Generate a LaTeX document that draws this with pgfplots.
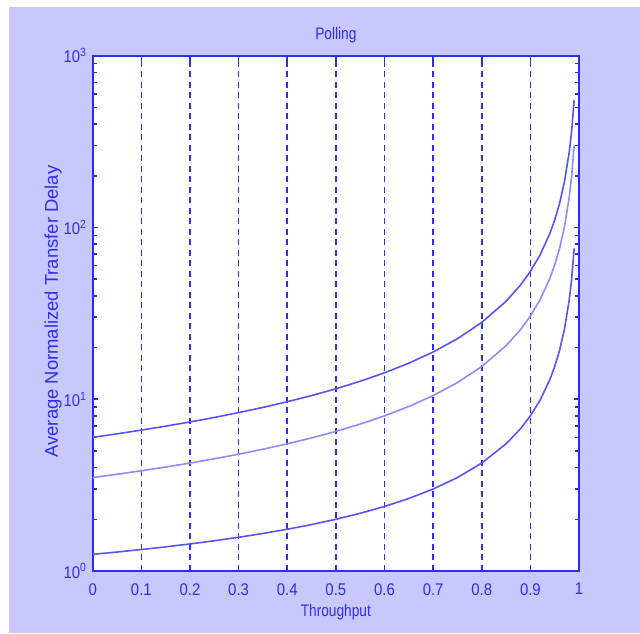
\documentclass[border=0pt]{standalone}
\usepackage{pgfplots}
\pgfplotsset{compat=1.18}
\usepackage{fontspec}
\setmainfont{Liberation Sans}[FakeStretch=0.82]
\newfontfamily\ylabfont{Liberation Sans}
\newfontfamily\tickfont{Liberation Sans}[FakeStretch=0.88]
\definecolor{bg}{RGB}{200,200,255}
\definecolor{ax}{RGB}{45,45,245}
\definecolor{ln}{RGB}{85,85,248}
\definecolor{lnl}{RGB}{140,140,255}
\begin{document}
\begin{tikzpicture}
\fill[white] (0bp,0bp) rectangle (640bp,634bp);
\fill[bg] (9bp,1bp) rectangle (640bp,627bp);
\begin{axis}[
  at={(92.7bp,63bp)}, anchor=south west,
  scale only axis, width=486.3bp, height=515.3bp,
  xmin=0, xmax=1, ymin=1, ymax=1000, ymode=log,
  axis background/.style={fill=white},
  axis line style={draw=ax, line width=1.8bp},
  every tick/.style={draw=ax, line width=1.6bp},
  major tick length=5.5bp, minor tick length=4bp,
  tick align=inside,
  xtick={0,0.1,0.2,0.3,0.4,0.5,0.6,0.7,0.8,0.9,1},
  xticklabels={0,0.1,0.2,0.3,0.4,0.5,0.6,0.7,0.8,0.9,1},
  ytick={1,10,100,1000},
  yticklabels={10\textsuperscript{0},10\textsuperscript{1},10\textsuperscript{2},10\textsuperscript{3}},
  minor ytick={2,3,4,5,6,7,8,9,20,30,40,50,60,70,80,90,200,300,400,500,600,700,800,900},
  xmajorgrids,
  major x grid style={draw=ax, line width=1.6bp, dash pattern=on 6bp off 4.5bp},
  ticklabel style={font=\tickfont\fontsize{17}{19}\selectfont, text=ax},
  xticklabel style={inner sep=0pt, anchor=north, yshift=-12bp},
  yticklabel style={inner sep=0pt, anchor=east, xshift=-6bp},
  title={Polling},
  title style={at={(axis description cs:0.5,1.0305)}, anchor=base, yshift=-6pt, font=\fontsize{16.8}{19}\selectfont, text=ax},
  xlabel={Throughput},
  xlabel style={at={(axis description cs:0.5,-0.0887)}, anchor=base, font=\fontsize{16.8}{19}\selectfont, text=ax},
  ylabel={Average Normalized Transfer Delay},
  ylabel style={at={(axis description cs:-0.0714,0.5036)}, anchor=base, rotate=0, font=\ylabfont\fontsize{18.5}{21}\selectfont, text=ax},
  clip=true,
]
% a = 10
\addplot[ln, line width=1.6bp] coordinates {
(0,6) (0.05,6.2895) (0.1,6.6111) (0.15,6.9706) (0.2,7.375) (0.25,7.8333) (0.3,8.3571) (0.35,8.9615) (0.4,9.6667) (0.45,10.5) (0.5,11.5) (0.55,12.7222) (0.6,14.25) (0.65,16.2143) (0.7,18.8333) (0.75,22.5) (0.8,28.0) (0.85,37.1667) (0.88,46.3333) (0.9,55.5) (0.92,69.25) (0.94,92.1667) (0.95,110.5) (0.96,138.0) (0.97,183.8333) (0.98,275.5) (0.985,367.17) (0.99,550.5)
};
% a = 5
\addplot[lnl, line width=1.6bp] coordinates {
(0,3.5) (0.05,3.6579) (0.1,3.8333) (0.15,4.0294) (0.2,4.25) (0.25,4.5) (0.3,4.7857) (0.35,5.1154) (0.4,5.5) (0.45,5.9545) (0.5,6.5) (0.55,7.1667) (0.6,8.0) (0.65,9.0714) (0.7,10.5) (0.75,12.5) (0.8,15.5) (0.85,20.5) (0.88,25.5) (0.9,30.5) (0.92,38.0) (0.94,50.5) (0.95,60.5) (0.96,75.5) (0.97,100.5) (0.98,150.5) (0.985,200.5) (0.99,300.5)
};
% a = 0.5
\addplot[ln, line width=1.6bp] coordinates {
(0,1.25) (0.05,1.2895) (0.1,1.3333) (0.15,1.3824) (0.2,1.4375) (0.25,1.5) (0.3,1.5714) (0.35,1.6538) (0.4,1.75) (0.45,1.8636) (0.5,2.0) (0.55,2.1667) (0.6,2.375) (0.65,2.6429) (0.7,3.0) (0.75,3.5) (0.8,4.25) (0.85,5.5) (0.88,6.75) (0.9,8.0) (0.92,9.875) (0.94,13.0) (0.95,15.5) (0.96,19.25) (0.97,25.5) (0.98,38.0) (0.985,50.5) (0.99,75.5)
};
\end{axis}
\end{tikzpicture}
\end{document}
